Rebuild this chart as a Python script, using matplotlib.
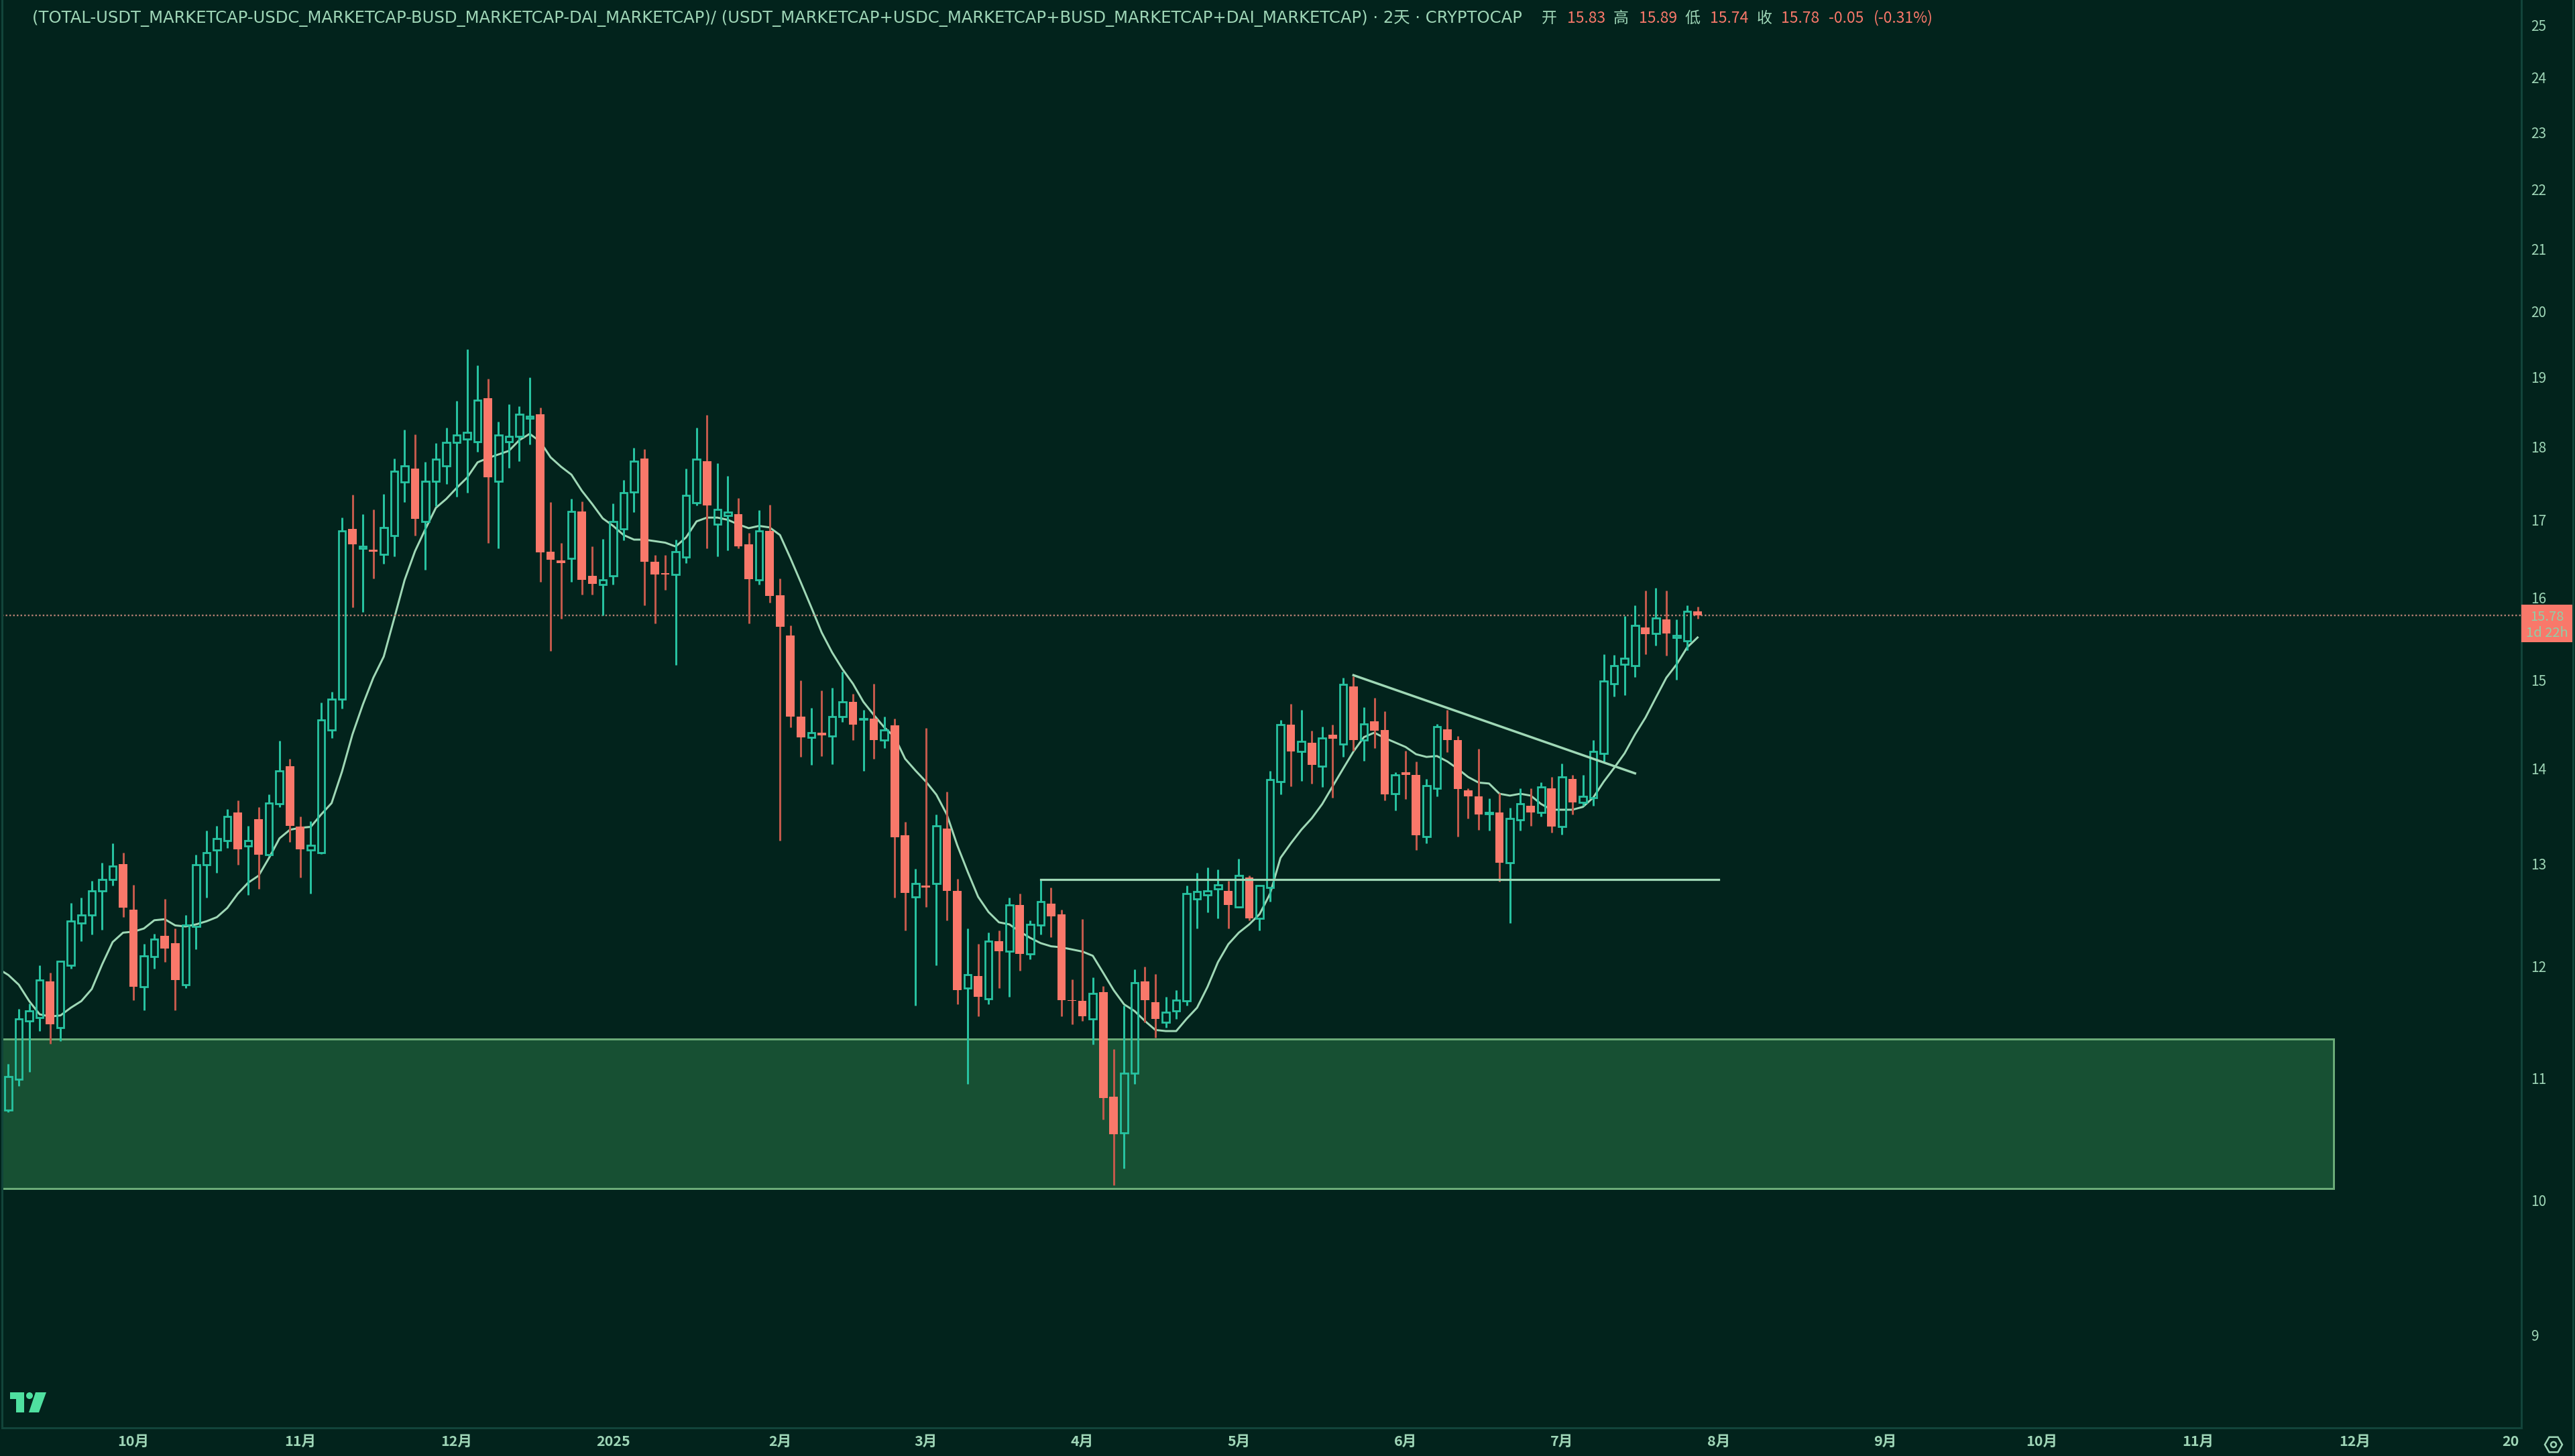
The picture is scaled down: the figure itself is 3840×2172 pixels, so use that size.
import numpy as np
import matplotlib
matplotlib.use("Agg")
import matplotlib.pyplot as plt
from matplotlib.patches import Rectangle, Polygon, Circle, RegularPolygon
from matplotlib.ticker import NullLocator

# two day candles, first one is clipped by the left edge
opens = [11.54,
    10.73, 10.99, 11.50, 11.53, 11.86, 11.44, 12.01, 12.41, 12.49, 12.73,
    12.84, 13.00, 12.54, 11.81, 12.09, 12.29, 12.22, 11.83, 12.38, 12.99,
    13.14, 13.24, 13.53, 13.18, 13.46, 13.09, 13.62, 14.03, 13.38, 13.14,
    13.11, 14.43, 14.78, 16.88, 16.63, 16.61, 16.55, 16.79, 17.51, 17.69,
    16.98, 17.52, 17.73, 18.06, 18.11, 18.07, 18.69, 17.52, 18.07, 18.14,
    18.40, 18.46, 16.58, 16.47, 16.50, 17.11, 16.27, 16.16, 16.27, 16.88,
    17.37, 17.83, 16.45, 16.31, 16.29, 16.51, 17.23, 17.80, 16.94, 17.06,
    17.08, 16.68, 16.22, 16.85, 16.03, 15.53, 14.58, 14.35, 14.40, 14.36,
    14.58, 14.75, 14.55, 14.56, 14.32, 14.48, 13.29, 12.67, 12.78, 12.80,
    13.36, 12.73, 11.80, 11.91, 11.70, 12.24, 12.14, 12.59, 12.12, 12.39,
    12.60, 12.50, 11.69, 11.68, 11.52, 11.76, 10.84, 10.54, 11.04, 11.86,
    11.67, 11.49, 11.59, 11.68, 12.65, 12.69, 12.75, 12.73, 12.57, 12.86,
    12.46, 12.76, 13.86, 14.49, 14.19, 14.29, 14.03, 14.38, 14.27, 14.93,
    14.32, 14.53, 14.43, 13.73, 13.96, 13.93, 13.28, 13.79, 14.44, 14.32,
    13.77, 13.70, 13.52, 13.53, 13.01, 13.45, 13.60, 13.53, 13.79, 13.38,
    13.89, 13.64, 13.69, 14.17, 14.96, 15.19, 15.17, 15.63, 15.56, 15.73,
    15.51, 15.47, 15.83]
closes = [10.76,
    11.01, 11.52, 11.59, 11.87, 11.47, 12.05, 12.43, 12.49, 12.73, 12.84,
    12.98, 12.56, 11.81, 12.10, 12.26, 12.17, 11.87, 12.39, 12.99, 13.11,
    13.26, 13.49, 13.15, 13.24, 13.09, 13.63, 13.98, 13.39, 13.15, 13.19,
    14.54, 14.78, 16.85, 16.68, 16.65, 16.58, 16.90, 17.66, 17.73, 17.01,
    17.52, 17.82, 18.06, 18.16, 18.20, 18.66, 17.57, 18.16, 18.14, 18.46,
    18.43, 16.57, 16.48, 16.44, 17.11, 16.22, 16.17, 16.22, 16.98, 17.36,
    17.80, 16.45, 16.29, 16.29, 16.58, 17.33, 17.82, 17.19, 17.14, 17.10,
    16.65, 16.23, 16.85, 16.02, 15.64, 14.58, 14.35, 14.40, 14.37, 14.58,
    14.75, 14.49, 14.56, 14.32, 14.43, 13.27, 12.71, 12.80, 12.76, 13.39,
    12.73, 11.78, 11.92, 11.72, 12.24, 12.14, 12.59, 12.12, 12.40, 12.62,
    12.48, 11.69, 11.68, 11.54, 11.75, 10.83, 10.53, 11.04, 11.85, 11.69,
    11.52, 11.58, 11.69, 12.70, 12.72, 12.73, 12.79, 12.59, 12.88, 12.46,
    12.78, 13.88, 14.49, 14.19, 14.30, 14.04, 14.34, 14.33, 14.95, 14.32,
    14.50, 14.42, 13.72, 13.93, 13.93, 13.29, 13.82, 14.47, 14.32, 13.78,
    13.70, 13.51, 13.53, 13.01, 13.47, 13.62, 13.53, 13.80, 13.38, 13.91,
    13.64, 13.70, 14.19, 14.99, 15.17, 15.26, 15.66, 15.55, 15.75, 15.56,
    15.53, 15.83, 15.78]
highs = [11.60,
    11.12, 11.61, 11.66, 12.01, 11.94, 12.05, 12.61, 12.66, 12.83, 13.01,
    13.21, 13.11, 12.79, 12.21, 12.31, 12.65, 12.36, 12.49, 13.09, 13.34,
    13.39, 13.57, 13.66, 13.39, 13.59, 13.72, 14.31, 14.11, 13.49, 13.44,
    14.74, 14.87, 17.03, 17.34, 17.08, 17.14, 17.35, 17.83, 18.24, 18.17,
    17.79, 18.05, 18.27, 18.65, 19.42, 19.18, 18.98, 18.35, 18.60, 18.58,
    19.00, 18.56, 17.24, 16.70, 17.28, 17.25, 16.65, 16.75, 17.22, 17.54,
    17.98, 17.96, 16.54, 16.54, 16.74, 17.69, 18.27, 18.45, 17.77, 17.59,
    17.29, 16.83, 17.13, 17.20, 16.24, 15.66, 15.00, 14.68, 14.88, 14.91,
    15.10, 14.84, 14.66, 14.96, 14.58, 14.56, 13.43, 12.95, 14.45, 13.51,
    13.75, 12.85, 12.36, 12.21, 12.32, 12.34, 12.66, 12.70, 12.44, 12.85,
    12.76, 12.54, 11.88, 12.45, 11.90, 11.82, 11.25, 11.64, 11.97, 12.00,
    11.93, 11.72, 11.78, 12.78, 12.91, 12.96, 12.94, 12.83, 13.05, 12.88,
    12.79, 13.98, 14.54, 14.73, 14.66, 14.42, 14.47, 14.49, 15.03, 15.05,
    14.69, 14.80, 14.64, 13.96, 14.20, 14.08, 13.89, 14.50, 14.66, 14.36,
    13.79, 14.22, 13.68, 13.74, 13.58, 13.79, 13.79, 13.85, 13.91, 14.06,
    13.93, 13.93, 14.32, 15.31, 15.30, 15.77, 15.90, 16.09, 16.12, 16.09,
    15.73, 15.90, 15.89]
lows = [10.70,
    10.71, 10.93, 11.05, 11.41, 11.30, 11.32, 11.98, 12.24, 12.30, 12.35,
    12.78, 12.47, 11.69, 11.60, 11.98, 12.04, 11.60, 11.80, 12.16, 12.66,
    12.91, 13.16, 12.99, 12.69, 12.75, 13.08, 13.59, 13.22, 12.86, 12.70,
    13.10, 14.34, 14.67, 15.88, 15.82, 16.24, 16.43, 16.52, 17.24, 16.79,
    16.35, 17.18, 17.48, 17.31, 17.36, 17.93, 16.70, 16.63, 17.70, 17.80,
    18.03, 16.20, 15.35, 15.74, 16.20, 16.04, 16.04, 15.78, 16.16, 16.73,
    17.10, 15.90, 15.68, 16.10, 15.18, 16.44, 17.19, 16.63, 16.52, 16.60,
    16.63, 15.68, 16.16, 15.94, 13.24, 14.46, 14.13, 14.04, 14.14, 14.05,
    14.52, 14.32, 13.98, 14.11, 14.23, 12.66, 12.34, 11.64, 12.57, 12.01,
    12.44, 11.65, 10.95, 11.54, 11.65, 11.80, 11.72, 11.96, 12.07, 12.30,
    12.28, 11.54, 11.47, 11.50, 11.29, 10.65, 10.12, 10.25, 10.95, 11.49,
    11.35, 11.44, 11.52, 11.64, 12.36, 12.52, 12.46, 12.36, 12.56, 12.44,
    12.34, 12.62, 13.72, 13.81, 13.87, 13.84, 13.80, 13.69, 14.13, 14.20,
    14.09, 14.23, 13.66, 13.55, 13.67, 13.14, 13.21, 13.70, 14.18, 13.28,
    13.47, 13.35, 13.34, 12.82, 12.41, 13.34, 13.39, 13.49, 13.32, 13.30,
    13.51, 13.60, 13.60, 14.08, 14.81, 14.83, 15.04, 15.31, 15.41, 15.29,
    15.01, 15.36, 15.74]
ma = [11.98,
    11.92, 11.83, 11.68, 11.56, 11.54, 11.55, 11.62, 11.68, 11.79, 12.02,
    12.23, 12.32, 12.33, 12.36, 12.44, 12.45, 12.39, 12.38, 12.40, 12.43,
    12.47, 12.56, 12.70, 12.81, 12.88, 13.06, 13.26, 13.35, 13.37, 13.38,
    13.51, 13.63, 13.97, 14.38, 14.72, 15.03, 15.28, 15.74, 16.22, 16.59,
    16.88, 17.16, 17.28, 17.43, 17.57, 17.78, 17.84, 17.89, 17.94, 18.09,
    18.18, 18.07, 17.85, 17.72, 17.61, 17.39, 17.21, 17.02, 16.92, 16.80,
    16.74, 16.74, 16.72, 16.70, 16.65, 16.77, 16.98, 17.03, 17.03, 17.00,
    16.94, 16.89, 16.92, 16.90, 16.80, 16.50, 16.19, 15.88, 15.57, 15.33,
    15.13, 14.96, 14.75, 14.60, 14.46, 14.35, 14.11, 13.98, 13.86, 13.72,
    13.51, 13.19, 12.92, 12.67, 12.52, 12.42, 12.40, 12.33, 12.27, 12.22,
    12.19, 12.18, 12.16, 12.14, 12.10, 11.94, 11.78, 11.65, 11.59, 11.50,
    11.42, 11.41, 11.41, 11.52, 11.62, 11.81, 12.04, 12.21, 12.32, 12.40,
    12.50, 12.70, 13.06, 13.21, 13.35, 13.47, 13.62, 13.81, 14.00, 14.19,
    14.35, 14.40, 14.34, 14.29, 14.24, 14.16, 14.13, 14.14, 14.08, 14.00,
    13.91, 13.85, 13.84, 13.73, 13.71, 13.73, 13.71, 13.62, 13.56, 13.56,
    13.56, 13.59, 13.69, 13.86, 14.01, 14.17, 14.38, 14.57, 14.80, 15.03,
    15.19, 15.39, 15.51]

price_ticks = [9, 10, 11, 12, 13, 14, 15, 16, 17, 18, 19, 20, 21, 22, 23, 24, 25]
month_bars = [12, 28, 43, 58, 74, 88, 103, 118, 134, 149, 164, 180, 195, 210, 225, 240]
month_labels = ["10月", "11月", "12月", "2025", "2月", "3月", "4月", "5月", "6月", "7月",
                "8月", "9月", "10月", "11月", "12月", "20"]
last_price = 15.78
zone_bars = [-5, 223]
zone_prices = [10.09, 11.34]
support_bars = [99, 164]
support_prices = [12.84, 12.84]
trend_bars = [129, 156]
trend_prices = [15.06, 13.95]

BG = "#02231c"
GREEN = "#27c2a0"
RED = "#f9786a"
RED_WICK = "#c2594b"
LINE = "#9fd8b6"
TEXT = "#9fd6b7"
BORDER = "#12443a"
CJK = ["Noto Sans CJK SC", "DejaVu Sans"]
W, H = 3840, 2172
px = 0.72  # one image pixel in points

fig = plt.figure(figsize=(W / 100, H / 100), dpi=100, facecolor=BG)
ax = fig.add_axes([2.5 / W, (H - 2130) / H, 3757.5 / W, 2130 / H], facecolor=BG)
ax.set_yscale("log")
ax.set_xlim(-0.64, 241)
ax.set_ylim(8.373, 25.50)

bars = np.arange(len(opens)) - 1

# demand zone
ax.add_patch(Rectangle((zone_bars[0], zone_prices[0]), zone_bars[1] - zone_bars[0],
                       zone_prices[1] - zone_prices[0], facecolor="#175033",
                       edgecolor="#6aab78", lw=3 * px, zorder=1))
ax.plot(bars, ma, color=LINE, lw=3 * px, zorder=2, solid_joinstyle="round")
ax.axhline(last_price, color="#b57f72", lw=2.4 * px, ls=(0, (1.0, 1.3)), zorder=2)

for b, o, h, l, c in zip(bars, opens, highs, lows, closes):
    top, bot = max(o, c), min(o, c)
    if c >= o:
        ax.vlines(b, top, h, color=GREEN, lw=3 * px, zorder=3)
        ax.vlines(b, l, bot, color=GREEN, lw=3 * px, zorder=3)
        ax.bar(b, top - bot, bottom=bot, width=0.68, facecolor="none",
               edgecolor=GREEN, lw=2.8 * px, zorder=3)
    else:
        ax.vlines(b, l, h, color=RED_WICK, lw=3 * px, zorder=3)
        ax.bar(b, top - bot, bottom=bot, width=0.82, color=RED, lw=0, zorder=3.1)

ax.plot(support_bars, support_prices, color=LINE, lw=3.2 * px, zorder=4)
ax.plot(trend_bars, trend_prices, color=LINE, lw=3.5 * px, zorder=4)

ax.yaxis.tick_right()
ax.yaxis.set_minor_locator(NullLocator())
ax.xaxis.set_minor_locator(NullLocator())
ax.set_yticks(price_ticks)
ax.set_yticklabels([str(p) for p in price_ticks], family=CJK, fontsize=15, color=TEXT)
ax.set_xticks(month_bars)
ax.set_xticklabels(month_labels, family=CJK, fontsize=15.5, color=TEXT, fontweight="bold")
ax.tick_params(axis="both", length=0)
ax.tick_params(axis="y", pad=10)
ax.tick_params(axis="x", pad=7)
for name, sp in ax.spines.items():
    sp.set_color(BORDER)
    sp.set_linewidth(3 * px)
ax.spines["top"].set_visible(False)


def fx(x):
    return x / W


def fy(y):
    return 1 - y / H


# right edge of the price scale
fig.add_artist(plt.Line2D([fx(3837), fx(3837)], [0, 1], color=BORDER, lw=3 * px))

# title and ohlc strip
title = ("(TOTAL-USDT_MARKETCAP-USDC_MARKETCAP-BUSD_MARKETCAP-DAI_MARKETCAP)/ "
         "(USDT_MARKETCAP+USDC_MARKETCAP+BUSD_MARKETCAP+DAI_MARKETCAP) · 2天 · CRYPTOCAP")
fig.text(fx(48), fy(27), title, family=["DejaVu Sans", "Noto Sans CJK SC"], fontsize=17.5,
         color=TEXT, va="center", ha="left")
strip = [(2299, "开", TEXT), (2337, "15.83", RED), (2406, "高", TEXT), (2444, "15.89", RED),
         (2512, "低", TEXT), (2550, "15.74", RED), (2620, "收", TEXT), (2656, "15.78", RED),
         (2727, "-0.05", RED), (2794, "(-0.31%)", RED)]
for x, s, col in strip:
    fig.text(fx(x), fy(27), s, family=CJK, fontsize=16.5, color=col, va="center", ha="left")

# last price tag
fig.add_artist(Rectangle((fx(3760), fy(958)), 76 / W, 56 / H, transform=fig.transFigure,
                         facecolor=RED, edgecolor="none"))
fig.text(fx(3798), fy(920), "15.78", family=CJK, fontsize=14.5, color="#8fcfa8", ha="center", va="center")
fig.text(fx(3798), fy(944), "1d 22h", family=CJK, fontsize=14.5, color="#8fcfa8", ha="center", va="center")

# tradingview mark
LOGO = "#4fe0a0"
fig.add_artist(Polygon([(fx(15), fy(2077)), (fx(36), fy(2077)), (fx(36), fy(2107)), (fx(24), fy(2107)),
                        (fx(24), fy(2087)), (fx(15), fy(2087))], closed=True, transform=fig.transFigure,
                       facecolor=LOGO, edgecolor="none"))
fig.add_artist(Polygon([(fx(53), fy(2077)), (fx(69), fy(2077)), (fx(58), fy(2107)), (fx(43), fy(2107))],
                       closed=True, transform=fig.transFigure, facecolor=LOGO, edgecolor="none"))
dpi_tr = fig.dpi_scale_trans
fig.add_artist(Circle((44 / 100, (H - 2082) / 100), 5 / 100, transform=dpi_tr, facecolor=LOGO, edgecolor="none"))

# settings cog
fig.add_artist(RegularPolygon((3808 / 100, (H - 2155) / 100), 6, radius=13 / 100, orientation=np.pi / 6,
                              transform=dpi_tr, facecolor="none", edgecolor=TEXT, lw=2.5 * px))
fig.add_artist(Circle((3808 / 100, (H - 2155) / 100), 4 / 100, transform=dpi_tr,
                      facecolor="none", edgecolor=TEXT, lw=2.5 * px))

fig.savefig("out.png", dpi=100, facecolor=BG)
